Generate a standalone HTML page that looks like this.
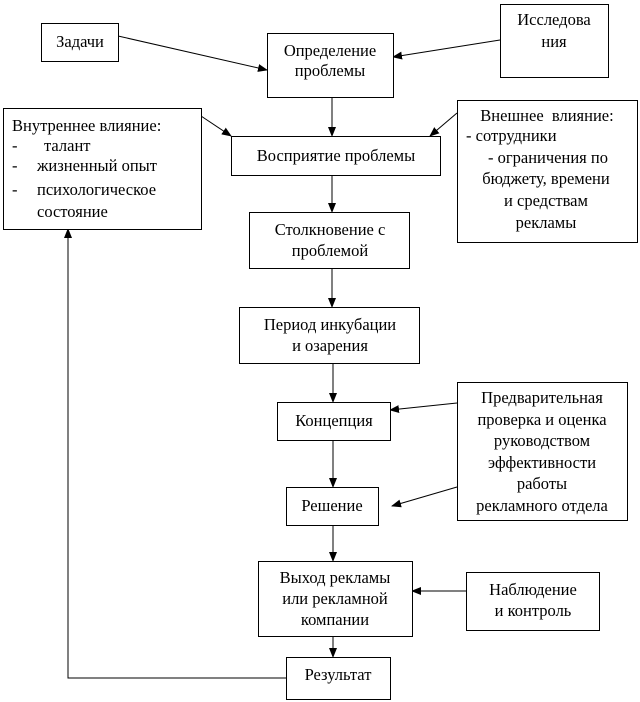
<!DOCTYPE html>
<html><head><meta charset="utf-8"><style>
html,body{margin:0;padding:0;background:#fff;}
svg{display:block}
text{font-family:"Liberation Serif","Times New Roman","DejaVu Serif",serif;font-size:16.5px;fill:#000}
rect{fill:#fff;stroke:#000;stroke-width:1}
line,polyline{stroke:#000;stroke-width:1;fill:none}
</style></head><body>
<svg width="640" height="702" viewBox="0 0 640 702" xmlns="http://www.w3.org/2000/svg" font-family="Liberation Serif, serif">
<defs><marker id="a" markerWidth="10" markerHeight="8" refX="9" refY="4" orient="auto" markerUnits="userSpaceOnUse"><path d="M0,0 L10,4 L0,8 z" fill="#000"/></marker></defs>
<line x1="118" y1="36" x2="267" y2="70" marker-end="url(#a)"/>
<line x1="500" y1="40" x2="393" y2="57" marker-end="url(#a)"/>
<line x1="201" y1="116" x2="231" y2="136" marker-end="url(#a)"/>
<line x1="457" y1="113" x2="430" y2="136" marker-end="url(#a)"/>
<line x1="332" y1="97" x2="332" y2="136" marker-end="url(#a)"/>
<line x1="332" y1="175" x2="332" y2="212" marker-end="url(#a)"/>
<line x1="332" y1="268" x2="332" y2="307" marker-end="url(#a)"/>
<line x1="333" y1="363" x2="333" y2="402" marker-end="url(#a)"/>
<line x1="333" y1="440" x2="333" y2="487" marker-end="url(#a)"/>
<line x1="333" y1="525" x2="333" y2="561" marker-end="url(#a)"/>
<line x1="333" y1="636" x2="333" y2="657" marker-end="url(#a)"/>
<line x1="457" y1="403" x2="390" y2="410" marker-end="url(#a)"/>
<line x1="457" y1="487" x2="392" y2="506" marker-end="url(#a)"/>
<line x1="466" y1="591" x2="412" y2="591" marker-end="url(#a)"/>
<polyline points="286,678 68,678 68,229"/>
<line x1="68" y1="240" x2="68" y2="229" marker-end="url(#a)"/>
<rect x="41.5" y="23.5" width="77" height="38"/>
<text x="80" y="47" text-anchor="middle">Задачи</text>
<rect x="267.5" y="33.5" width="126" height="64"/>
<text x="330" y="56" text-anchor="middle">Определение</text>
<text x="330" y="76" text-anchor="middle">проблемы</text>
<rect x="500.5" y="4.5" width="108" height="73"/>
<text x="554" y="25" text-anchor="middle">Исследова</text>
<text x="554" y="47" text-anchor="middle">ния</text>
<rect x="3.5" y="108.5" width="198" height="121"/>
<text x="12" y="131">Внутреннее влияние:</text>
<text x="12" y="151">-</text><text x="44" y="151">талант</text>
<text x="12" y="171">-</text><text x="37" y="171">жизненный опыт</text>
<text x="12" y="195">-</text><text x="37" y="195">психологическое</text>
<text x="37" y="217">состояние</text>
<rect x="231.5" y="136.5" width="209" height="39"/>
<text x="336" y="161" text-anchor="middle">Восприятие проблемы</text>
<rect x="457.5" y="100.5" width="180" height="142"/>
<text x="547" y="121" text-anchor="middle">Внешнее&#160; влияние:</text>
<text x="466" y="141">- сотрудники</text>
<text x="548" y="163" text-anchor="middle">- ограничения по</text>
<text x="546" y="184" text-anchor="middle">бюджету, времени</text>
<text x="546" y="206" text-anchor="middle">и средствам</text>
<text x="546" y="228" text-anchor="middle">рекламы</text>
<rect x="249.5" y="212.5" width="160" height="56"/>
<text x="330" y="235" text-anchor="middle">Столкновение с</text>
<text x="330" y="256" text-anchor="middle">проблемой</text>
<rect x="239.5" y="307.5" width="180" height="56"/>
<text x="330" y="330" text-anchor="middle">Период инкубации</text>
<text x="330" y="351" text-anchor="middle">и озарения</text>
<rect x="277.5" y="402.5" width="113" height="38"/>
<text x="334" y="426" text-anchor="middle">Концепция</text>
<rect x="457.5" y="382.5" width="170" height="138"/>
<text x="542" y="403" text-anchor="middle">Предварительная</text>
<text x="542" y="425" text-anchor="middle">проверка и оценка</text>
<text x="542" y="446" text-anchor="middle">руководством</text>
<text x="542" y="468" text-anchor="middle">эффективности</text>
<text x="542" y="489" text-anchor="middle">работы</text>
<text x="542" y="511" text-anchor="middle">рекламного отдела</text>
<rect x="286.5" y="487.5" width="92" height="38"/>
<text x="332" y="511" text-anchor="middle">Решение</text>
<rect x="258.5" y="561.5" width="154" height="75"/>
<text x="335" y="583" text-anchor="middle">Выход рекламы</text>
<text x="335" y="604" text-anchor="middle">или рекламной</text>
<text x="335" y="625" text-anchor="middle">компании</text>
<rect x="466.5" y="572.5" width="133" height="58"/>
<text x="533" y="595" text-anchor="middle">Наблюдение</text>
<text x="533" y="616" text-anchor="middle">и контроль</text>
<rect x="286.5" y="657.5" width="104" height="42"/>
<text x="338" y="680" text-anchor="middle">Результат</text>
</svg>
</body></html>
